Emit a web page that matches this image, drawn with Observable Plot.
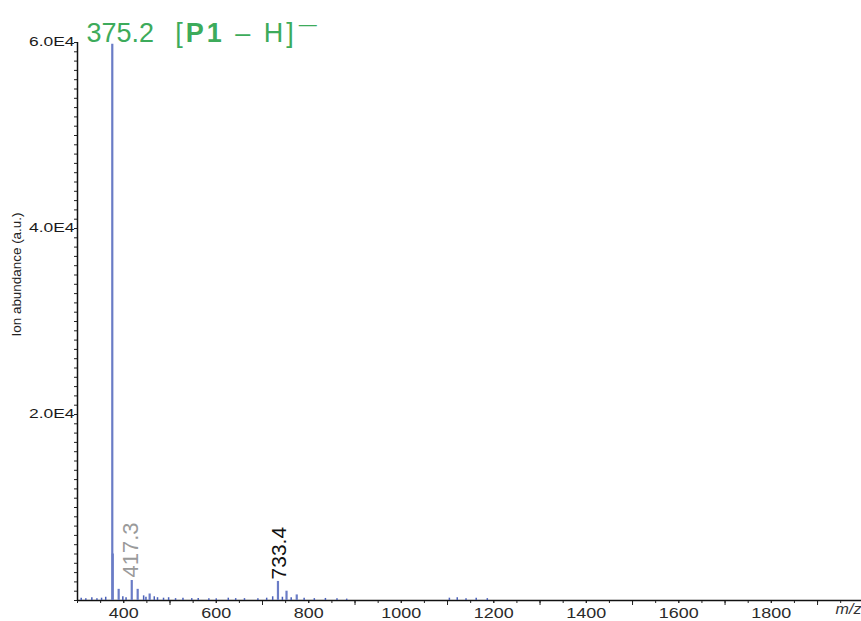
<!DOCTYPE html>
<html><head><meta charset="utf-8">
<script src="https://cdn.jsdelivr.net/npm/d3@7"></script>
<script src="https://cdn.jsdelivr.net/npm/@observablehq/plot@0.6"></script>
<style>
html,body{margin:0;padding:0;background:#fff;overflow:hidden;}
</style></head><body><div id="chart"></div>
<script>
// Main peaks (m/z, ion abundance in a.u.)
const peakMz        = [375.2, 376.2, 389.0, 417.3, 430.1, 456.0, 733.4, 751.9, 774.0];
const peakAbundance = [59800, 5000,  1200,  2150,  1200,  700,   2050,  1000,  600];
// Baseline noise
const noiseMz        = [308, 318, 331, 342, 352, 361, 398, 405, 443, 448, 466, 473, 486, 497, 512, 528, 547, 561, 584, 600, 626, 642, 661, 690, 709, 722, 743, 762, 790, 812, 836, 861, 882, 1104, 1121, 1140, 1162, 1186];
const noiseAbundance = [250, 180, 300, 200, 250, 350, 400, 300, 500, 350, 400, 300, 250, 300, 200, 250, 200, 220, 200, 180, 250, 200, 200, 180, 250, 400, 350, 300, 250, 200, 220, 180, 150, 250, 300, 200, 250, 200];
// Peak annotations
const labelMz   = [375.2, 417.3, 733.4];
const labelText = ["375.2", "417.3", "733.4"];
const ionFormula = "[P1 – H]−";
const yTitle = "Ion abundance (a.u.)";
const xTitle = "m/z";
// Axis ticks
const xTicksMinor = [300,350,400,450,500,550,600,650,700,750,800,850,900,950,1000,1050,1100,1150,1200,1250,1300,1350,1400,1450,1500,1550,1600,1650,1700,1750,1800,1850,1900,1950];
const xTicksMajor = [500, 700, 900, 1100, 1300, 1500, 1700, 1900];
const xTickLabels = [400, 600, 800, 1000, 1200, 1400, 1600, 1800];
const yTickLabels = [20000, 40000, 60000];
const yTicksMinor = d3.range(0, 60001, 1000);

const peaks = peakMz.map((mz, i) => ({mz, abundance: peakAbundance[i]}));
const noise = noiseMz.map((mz, i) => ({mz, abundance: noiseAbundance[i]}));
const labels = labelMz.map((mz, i) => ({mz, text: labelText[i], abundance: peakAbundance[peakMz.indexOf(mz)]}));

const chart = Plot.plot({
  width: 861, height: 621,
  marginLeft: 77, marginRight: 0, marginTop: 42, marginBottom: 21,
  style: {fontFamily: "'Liberation Sans', Arial, sans-serif", background: "#fff", overflow: "visible"},
  x: {domain: [300, 1995]},
  y: {domain: [0, 60000]},
  marks: [
    Plot.axisY(yTicksMinor, {tickSize: 3, tickFormat: () => "", stroke: "#222", label: null}),
    Plot.axisY(yTickLabels, {tickSize: 0, tickPadding: 3, tickFormat: d => (d / 1e4).toFixed(1) + "E4", fontSize: 12, fill: "#1a1a1a", label: null}),
    Plot.axisX(xTicksMinor, {tickSize: 3, tickFormat: () => "", stroke: "#222", label: null}),
    Plot.axisX(xTicksMajor, {tickSize: 5, tickFormat: () => "", stroke: "#222", label: null}),
    Plot.axisX(xTickLabels, {tickSize: 3, tickPadding: 5, fontSize: 14, fill: "#2a2a2a", stroke: "#222", tickFormat: d => String(d), label: null}),
    Plot.ruleX([300], {stroke: "#111", strokeWidth: 1.5}),
    Plot.ruleY([0], {stroke: "#111", strokeWidth: 1.5}),
    Plot.ruleX(noise, {x: "mz", y: "abundance", stroke: "#4a60b8", strokeWidth: 1.5}),
    Plot.ruleX(peaks, {x: "mz", y: "abundance", stroke: "#6a7cc6", strokeWidth: 2.2}),
    Plot.text(labels.filter(d => d.mz === 375.2), {x: "mz", y: "abundance", text: "text", textAnchor: "middle", dx: 8, dy: -11, fontSize: 27, fill: "#3dab5b"}),
    Plot.text(labels.filter(d => d.mz === 375.2), {x: "mz", y: "abundance", text: () => ionFormula, textAnchor: "start", dx: 63, dy: -11, fontSize: 27, fill: "#3dab5b"}),
    Plot.text(labels.filter(d => d.mz === 417.3), {x: "mz", y: "abundance", text: "text", rotate: -90, textAnchor: "start", dx: -1, dy: -3, fontSize: 22, fill: "#9a9a9a"}),
    Plot.text(labels.filter(d => d.mz === 733.4), {x: "mz", y: "abundance", text: "text", rotate: -90, textAnchor: "start", dx: 1, dy: -2, fontSize: 21, fill: "#111"}),
    Plot.text([yTitle], {frameAnchor: "left", rotate: -90, dx: -60, dy: 15, fontSize: 12, fill: "#222"}),
    Plot.text([xTitle], {frameAnchor: "bottom-right", textAnchor: "end", dy: 13, fontSize: 14, fontStyle: "italic", fill: "#333"})
  ]
});
document.getElementById("chart").appendChild(chart);

const allText = Array.from(chart.querySelectorAll("text"));
const byContent = s => allText.filter(t => t.textContent === s);

// Rich text for ion formula: bold P1 and superscript minus
byContent(ionFormula).forEach(node => {
  const f = d3.select(node);
  f.text(null).style("letter-spacing", "3px");
  f.append("tspan").text("[");
  f.append("tspan").style("font-weight", "bold").text("P1");
  f.append("tspan").text(" – H]");
  f.append("tspan").style("font-size", "18px").attr("dx", 2).attr("dy", -12).text("—");
});

// Widen glyphs to match the reference's letterforms
function stretch(nodes, k) {
  nodes.forEach(t => {
    const L = t.getComputedTextLength();
    if (L > 0) { t.setAttribute("textLength", (L * k).toFixed(1)); t.setAttribute("lengthAdjust", "spacingAndGlyphs"); }
  });
}
stretch(allText.filter(t => /E4$/.test(t.textContent)), 1.45);
stretch(allText.filter(t => xTickLabels.map(String).includes(t.textContent)), 1.28);
stretch(byContent(yTitle), 1.12);
stretch(byContent(xTitle), 1.15);
</script></body></html>
